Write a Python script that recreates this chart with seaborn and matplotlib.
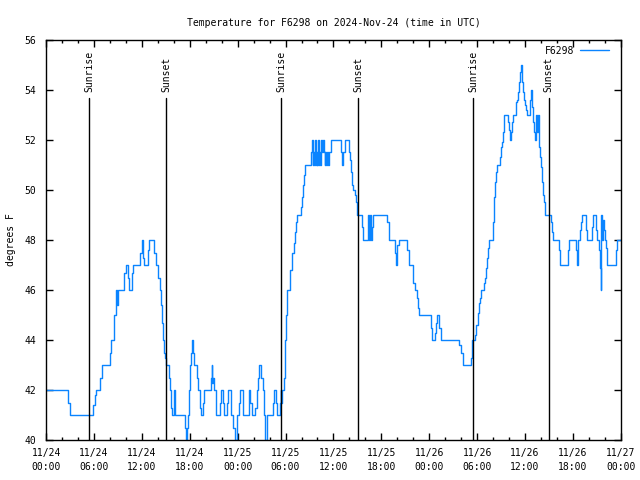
import numpy as np
import pandas as pd
import matplotlib
matplotlib.use('Agg')
import matplotlib.pyplot as plt
import matplotlib.dates as mdates
import seaborn as sns

# Readings: hours since 2024-11-24 00:00 UTC and temperature (F), step changes
hours = [
    0.0, 2.79, 2.94, 5.92, 6.07, 6.2, 6.8, 7.05, 8.05, 8.17, 8.45, 8.7, 8.8, 8.89, 9.01,
    9.8, 10.05, 10.3, 10.43, 10.8, 10.93, 11.8, 12.05, 12.18, 12.3, 12.8, 12.93, 13.55,
    13.8, 14.05, 14.3, 14.43, 14.52, 14.64, 14.8, 14.96, 15.06, 15.43, 15.58, 15.68, 15.83,
    16.02, 16.15, 17.36, 17.48, 17.61, 17.73, 17.93, 18.06, 18.18, 18.3, 18.44, 18.52,
    18.86, 19.06, 19.24, 19.36, 19.69, 19.81, 20.69, 20.74, 20.81, 20.9, 20.99, 21.24,
    21.32, 21.78, 21.9, 22.19, 22.32, 22.65, 22.78, 23.11, 23.19, 23.44, 23.62, 23.87,
    23.94, 24.15, 24.28, 24.62, 24.69, 25.37, 25.53, 25.74, 26.2, 26.37, 26.53, 26.7,
    26.95, 27.12, 27.28, 27.45, 27.62, 27.7, 28.45, 28.57, 28.82, 28.91, 29.29, 29.37,
    29.45, 29.54, 29.79, 29.87, 29.95, 30.04, 30.2, 30.5, 30.62, 30.75, 30.87, 31.0,
    31.13, 31.25, 31.38, 31.95, 32.08, 32.2, 32.33, 32.45, 33.25, 33.33, 33.42, 33.5,
    33.58, 33.7, 33.79, 33.88, 33.95, 34.08, 34.17, 34.25, 34.33, 34.46, 34.54, 34.63,
    34.8, 34.92, 35.0, 35.08, 35.17, 35.26, 35.42, 35.71, 36.96, 37.09, 37.21, 37.46,
    37.96, 38.09, 38.21, 38.33, 38.46, 38.67, 38.83, 38.96, 39.55, 39.71, 40.33, 40.38,
    40.46, 40.58, 40.67, 40.79, 40.96, 42.71, 42.93, 43.72, 43.84, 43.97, 44.22, 45.22,
    45.47, 45.97, 46.22, 46.47, 46.6, 46.68, 48.22, 48.4, 48.72, 48.85, 48.97, 49.19,
    49.44, 51.73, 52.03, 52.23, 53.23, 53.4, 53.69, 53.9, 54.07, 54.23, 54.4, 54.53,
    54.86, 54.98, 55.11, 55.28, 55.4, 55.53, 55.94, 56.11, 56.23, 56.4, 56.53, 56.82,
    56.95, 57.11, 57.24, 57.41, 57.86, 57.98, 58.16, 58.29, 58.41, 58.54, 58.86, 58.99,
    59.11, 59.24, 59.36, 59.49, 59.61, 59.74, 59.86, 59.99, 60.11, 60.24, 60.61, 60.74,
    60.86, 60.99, 61.11, 61.24, 61.36, 61.49, 61.61, 61.74, 61.86, 61.99, 62.11, 62.24,
    62.36, 62.49, 63.29, 63.42, 63.54, 64.24, 64.42, 65.42, 65.54, 66.37, 66.5, 66.62,
    66.83, 66.96, 67.17, 67.62, 67.75, 68.37, 68.5, 68.92, 69.05, 69.21, 69.34, 69.46,
    69.55, 69.67, 69.8, 69.92, 70.05, 70.17, 70.3, 71.42, 71.55, 72.0,
]
temps = [
    42, 41.5, 41, 41.4, 41.8, 42, 42.5, 43, 43.5, 44, 45, 45.6, 46, 45.4, 46,
    46.7, 47, 46.5, 46, 46.7, 47, 47.5, 48, 47.3, 47, 47.6, 48, 47.5,
    47, 46.5, 46, 45.4, 44.7, 44, 43.5, 43.3, 43, 42.5, 42, 41.3, 41,
    42, 41, 40.5, 40, 40.5, 41, 42, 43, 43.5, 44, 43.5, 43,
    42.5, 42, 41.3, 41, 41.5, 42, 42.5, 43, 42.3, 42.5, 42, 41.5,
    41, 41.5, 42, 41.5, 41, 41.5, 42, 41.5, 41, 40.5, 40, 40.5,
    41, 41.5, 42, 41.5, 41, 42, 41.5, 41, 41.3, 42, 42.5, 43,
    42.5, 42, 41, 40, 40.7, 41, 41.5, 42, 41.5, 41, 41.5, 42,
    41.5, 42, 42.5, 43, 44, 45, 46, 46.3, 46.8, 47.2, 47.5, 47.9,
    48.3, 48.7, 49, 49.3, 49.7, 50.2, 50.6, 51, 51.5, 52, 51, 51.5,
    51, 52, 51, 51.5, 51, 52, 51, 51.5, 51, 52, 51.5, 52,
    51.5, 51, 51.5, 51, 51.5, 51, 51.5, 52, 51.5, 51, 51.5, 52,
    51.5, 51.2, 50.7, 50.2, 50, 49.8, 49.5, 49, 48.5, 48, 48.5, 49,
    48, 49, 48, 48.5, 49, 48.7, 48, 47.5, 47, 47.8, 48, 47.6,
    47, 46.3, 46, 45.7, 45.3, 45, 44.5, 44, 44.3, 44.7, 45, 44.5,
    44, 43.8, 43.5, 43, 43.3, 44, 44.2, 44.6, 45.1, 45.5, 45.7, 46,
    46.3, 46.5, 46.9, 47.3, 47.7, 48, 48.7, 49.7, 50.3, 50.7, 51, 51.3,
    51.7, 51.9, 52.3, 53, 52.7, 52.4, 52, 52.3, 52.7, 53, 53.5, 53.6,
    53.9, 54.3, 54.7, 55, 54.3, 53.9, 53.6, 53.4, 53.2, 53, 53.6, 54,
    53.3, 52.7, 52.3, 52, 53, 52.3, 53, 51.7, 51.3, 50.9, 50.3, 49.8,
    49.5, 49, 48.7, 48.3, 48, 47.6, 47, 47.6, 48, 47.6, 47, 48,
    48.4, 48.7, 49, 48.4, 48, 48.5, 49, 48.4, 48, 47.6, 46.9, 46,
    49, 48, 48.8, 48.4, 48, 47.7, 47, 47.6, 48, 48,
]

# Sunrise / sunset markers (hours since start)
sun_hours = [5.42, 15.06, 29.45, 39.09, 53.48, 62.95]
sun_labels = ['Sunrise', 'Sunset', 'Sunrise', 'Sunset', 'Sunrise', 'Sunset']

y_ticks = [40, 42, 44, 46, 48, 50, 52, 54, 56]

start = pd.Timestamp('2024-11-24 00:00')
df = pd.DataFrame({'time': start + pd.to_timedelta(hours, unit='h'), 'temp': temps})

sns.set_style('ticks')
plt.rcParams['font.family'] = ['DejaVu Sans Mono']
plt.rcParams['axes.edgecolor'] = 'black'
plt.rcParams['text.color'] = 'black'
plt.rcParams['xtick.color'] = 'black'
plt.rcParams['ytick.color'] = 'black'
plt.rcParams['axes.labelcolor'] = 'black'

fig, ax = plt.subplots(figsize=(6.4, 4.8), dpi=100)
fig.subplots_adjust(left=0.072, right=0.970, bottom=0.083, top=0.917)

sns.lineplot(data=df, x='time', y='temp', ax=ax, color='#0a84ff', lw=1,
             drawstyle='steps-post', estimator=None, label='F6298')

for t, lab in zip(sun_hours, sun_labels):
    ts = start + pd.Timedelta(hours=t)
    ax.axvline(ts, ymin=0, ymax=0.855, color='black', lw=1)
    ax.text(ts, 53.9, lab, rotation=90, ha='center', va='bottom', fontsize=7)

ax.set_xlim(start, start + pd.Timedelta(hours=72))
ax.set_ylim(40, 56)
ax.set_yticks(y_ticks)
ax.xaxis.set_major_locator(mdates.HourLocator(byhour=range(0, 24, 6)))
ax.xaxis.set_minor_locator(mdates.HourLocator(byhour=range(0, 24, 2)))
ax.xaxis.set_major_formatter(mdates.DateFormatter('%m/%d\n%H:%M'))
ax.tick_params(which='major', direction='in', top=True, right=True, length=5, width=1, labelsize=7)
ax.tick_params(which='minor', direction='in', top=True, right=False, length=2.5, width=1)
ax.tick_params(axis='x', pad=6)
ax.tick_params(axis='y', pad=7)
for s in ax.spines.values():
    s.set_linewidth(1)
    s.set_color('black')

ax.set_xlabel('')
ax.set_ylabel('degrees F', fontsize=7, labelpad=6)
ax.set_title('Temperature for F6298 on 2024-Nov-24 (time in UTC)', fontsize=7, pad=10)
ax.legend(loc='upper right', bbox_to_anchor=(0.99, 1.0), frameon=False, markerfirst=False,
          handlelength=3, handletextpad=0.6, borderaxespad=0.2, fontsize=7)

fig.canvas.draw()
for lbl in ax.get_xticklabels():
    lbl.set_linespacing(1.5)

fig.savefig('out.png', dpi=100)
